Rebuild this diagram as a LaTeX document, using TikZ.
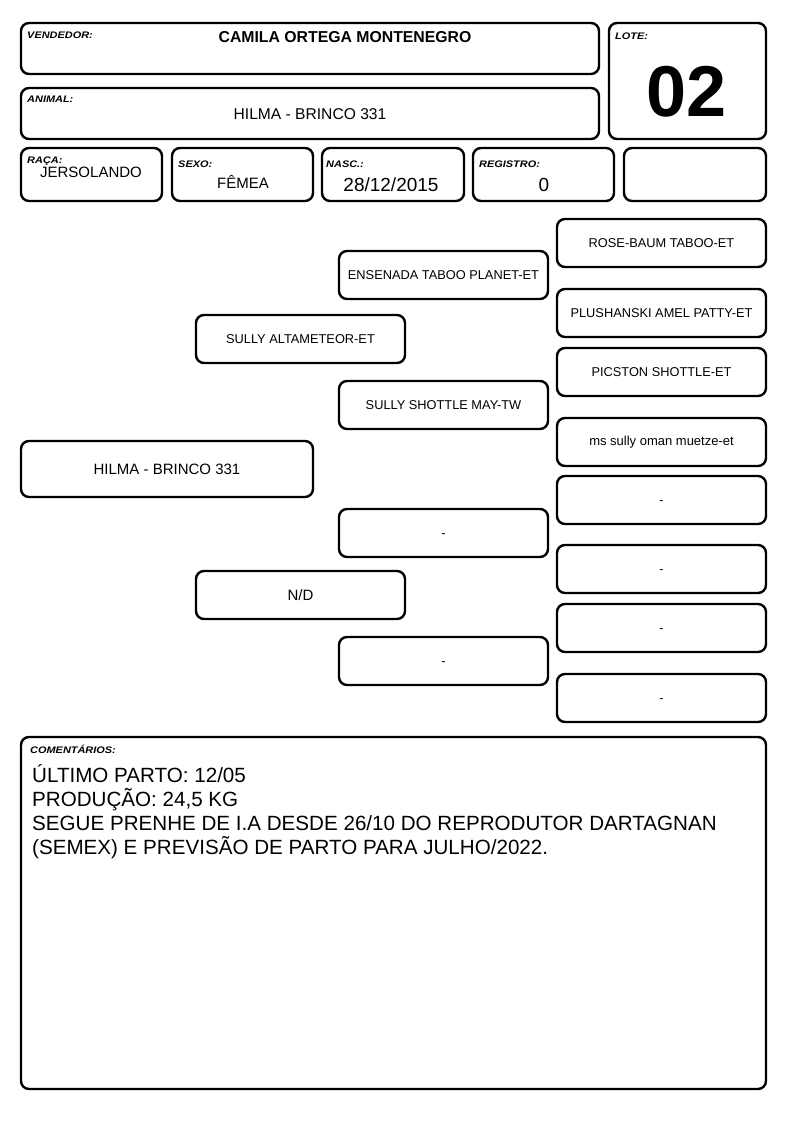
\documentclass[tikz,border=0pt]{standalone}
\usepackage{fontspec}
\setmainfont{Liberation Sans}
\newcommand{\nodash}{\vphantom{A}-}
\begin{document}
\begin{tikzpicture}[x=1pt,y=-1pt,
  bx/.style={draw, line width=2.4pt, rounded corners=8pt, inner sep=0pt, outer sep=0pt, anchor=north west},
  lbl/.style={font=\fontsize{9.5}{11}\selectfont\bfseries\itshape, anchor=base west, inner sep=0pt, xscale=1.15, transform shape},
  val/.style={font=\fontsize{15}{18}\selectfont, anchor=base, inner sep=0pt},
  ped/.style={bx, font=\fontsize{12.8}{15}\selectfont, align=center, minimum width=209pt, minimum height=48pt},
  cmt/.style={font=\fontsize{20.6}{24}\selectfont, anchor=base west, inner sep=0pt}]
\useasboundingbox (0,0) rectangle (794,1123);
% header boxes
\node[bx, minimum width=578pt, minimum height=51pt] (vend) at (21,23) {};
\node[bx, minimum width=157pt, minimum height=116pt] (lote) at (609,23) {};
\node[bx, minimum width=578pt, minimum height=51pt] (anim) at (21,88) {};
\node[bx, minimum width=141pt, minimum height=53pt] (raca) at (21,148) {};
\node[bx, minimum width=141pt, minimum height=53pt] (sexo) at (172,148) {};
\node[bx, minimum width=142pt, minimum height=53pt] (nasc) at (322,148) {};
\node[bx, minimum width=141pt, minimum height=53pt] (reg) at (473,148) {};
\node[bx, minimum width=142pt, minimum height=53pt] (blank) at (624,148) {};
% header texts
\node[lbl] (lvend) at (27,39) {VENDEDOR:};
\node[val, font=\fontsize{15.8}{18}\selectfont\bfseries] (tvend) at (345,43) {CAMILA ORTEGA MONTENEGRO};
\node[lbl] (llote) at (615,40) {LOTE:};
\node[val, font=\fontsize{72}{80}\selectfont\bfseries] (tlote) at (687,117) {02};
\node[lbl] (lanim) at (27,103) {ANIMAL:};
\node[val, font=\fontsize{15.6}{20}\selectfont] (tanim) at (310,120) {HILMA - BRINCO 331};
\node[lbl] (lraca) at (27,164) {RAÇA:};
\node[val] (traca) at (91,178) {JERSOLANDO};
\node[lbl] (lsexo) at (178,168) {SEXO:};
\node[val] (tsexo) at (243,189) {FÊMEA};
\node[lbl] (lnasc) at (326,168) {NASC.:};
\node[val, font=\fontsize{19}{22}\selectfont] (tnasc) at (391,192) {28/12/2015};
\node[lbl] (lreg) at (479,168) {REGISTRO:};
\node[val, font=\fontsize{19}{22}\selectfont] (treg) at (544,192) {0};
% pedigree
\node[bx, font=\fontsize{15}{18}\selectfont, minimum width=292pt, minimum height=56pt] (p0) at (21,441) {HILMA - BRINCO 331};
\node[ped] (s) at (196,315) {SULLY ALTAMETEOR-ET};
\node[ped, font=\fontsize{15}{18}\selectfont] (d) at (196,571) {N/D};
\node[ped] (ss) at (339,251) {ENSENADA TABOO PLANET-ET};
\node[ped] (sd) at (339,381) {SULLY SHOTTLE MAY-TW};
\node[ped] (ds) at (339,509) {\nodash};
\node[ped] (dd) at (339,637) {\nodash};
\node[ped] (sss) at (557,219) {ROSE-BAUM TABOO-ET};
\node[ped] (ssd) at (557,289) {PLUSHANSKI AMEL PATTY-ET};
\node[ped] (sds) at (557,348) {PICSTON SHOTTLE-ET};
\node[ped, font=\fontsize{13}{15}\selectfont] (sdd) at (557,418) {ms sully oman muetze-et};
\node[ped] (dss) at (557,476) {\nodash};
\node[ped] (dsd) at (557,545) {\nodash};
\node[ped] (dds) at (557,604) {\nodash};
\node[ped] (ddd) at (557,674) {\nodash};
% comments
\node[bx, minimum width=745pt, minimum height=352pt] (com) at (21,737) {};
\node[lbl] (lcom) at (30,753) {COMENTÁRIOS:};
\node[cmt] (c1) at (32,782) {ÚLTIMO PARTO: 12/05};
\node[cmt] (c2) at (32,806) {PRODUÇÃO: 24,5 KG};
\node[cmt] (c3) at (32,830) {SEGUE PRENHE DE I.A DESDE 26/10 DO REPRODUTOR DARTAGNAN};
\node[cmt] (c4) at (32,854) {(SEMEX) E PREVISÃO DE PARTO PARA JULHO/2022.};
\end{tikzpicture}
\end{document}
